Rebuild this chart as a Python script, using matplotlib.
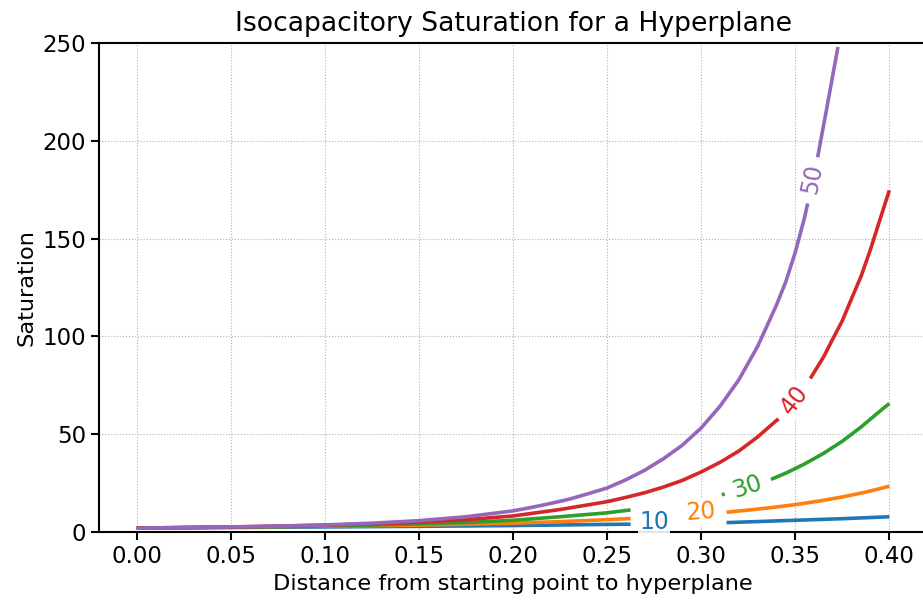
import numpy as np
import matplotlib
matplotlib.use("Agg")
import matplotlib.pyplot as plt

plt.rcParams["font.family"] = "DejaVu Sans"
plt.rcParams["font.size"] = 16
plt.rcParams["axes.linewidth"] = 1.5

# contour levels (dimension) and the values
# NaN marks where the contour line is broken for its label
levels = [10, 20, 30, 40, 50]
colors = ["tab:blue", "tab:orange", "tab:green", "tab:red", "tab:purple"]

dist_10 = [0.0, 0.05, 0.10, 0.15, 0.20, 0.25, 0.2625, np.nan,
           0.3135, 0.35, 0.375, 0.40]
sat_10 = [2.0, 2.3, 2.6, 2.9, 3.3, 3.9, 4.0, np.nan,
          4.8, 6.0, 6.8, 7.8]

dist_20 = [0.0, 0.05, 0.10, 0.15, 0.20, 0.225, 0.25, 0.2625, np.nan,
           0.3135, 0.325, 0.3375, 0.35, 0.3625, 0.375, 0.3875, 0.40]
sat_20 = [2.0, 2.5, 3.0, 3.5, 4.5, 5.3, 6.3, 6.9, np.nan,
          10.1, 11.2, 12.5, 14.0, 15.8, 17.9, 20.4, 23.4]

dist_30 = [0.0, 0.025, 0.05, 0.075, 0.10, 0.125, 0.15, 0.175, 0.20, 0.225,
           0.25, 0.2625, np.nan,
           0.311, 0.3125, np.nan,
           0.3371, 0.345, 0.355, 0.365, 0.375, 0.385, 0.395, 0.40]
sat_30 = [2.0, 2.2, 2.5, 2.8, 3.2, 3.6, 4.2, 4.9, 6.0, 7.8,
          9.8, 11.3, np.nan,
          19.0, 19.5, np.nan,
          26.9, 30.1, 34.8, 40.2, 46.4, 53.7, 61.8, 65.7]

dist_40 = [0.0, 0.025, 0.05, 0.075, 0.10, 0.125, 0.15, 0.175, 0.20, 0.225,
           0.25, 0.26, 0.27, 0.28, 0.29, 0.30, 0.31, 0.32, 0.33, 0.34, 0.3412,
           np.nan,
           0.358, 0.365, 0.37, 0.375, 0.38, 0.385, 0.39, 0.395, 0.40]
sat_40 = [2.0, 2.3, 2.6, 3.0, 3.5, 4.1, 5.0, 6.3, 8.2, 11.5,
          15.5, 17.7, 20.1, 23.0, 26.4, 30.7, 35.6, 41.4, 48.6, 57.0, 57.8,
          np.nan,
          78.5, 89.4, 98.8, 108.0, 119.5, 130.8, 144.5, 159.7, 174.7]

dist_50 = [0.0, 0.025, 0.05, 0.075, 0.10, 0.125, 0.15, 0.175, 0.20, 0.21,
           0.22, 0.23, 0.24, 0.25, 0.26, 0.27, 0.28, 0.29, 0.30, 0.31,
           0.32, 0.33, 0.34, 0.345, 0.35, 0.355, 0.3566, np.nan,
           0.3619, 0.367, 0.3727]
sat_50 = [2.0, 2.3, 2.6, 3.0, 3.6, 4.5, 5.8, 7.8, 10.8, 12.6,
          14.6, 16.8, 19.6, 22.5, 26.7, 31.6, 37.5, 44.4, 53.2, 64.3,
          77.8, 94.9, 116.0, 128.0, 143.0, 161.0, 168.0, np.nan,
          191.6, 218.0, 248.0]

curves = [(dist_10, sat_10), (dist_20, sat_20), (dist_30, sat_30),
          (dist_40, sat_40), (dist_50, sat_50)]

# inline label spots (distance, saturation, rotation)
label_spots = [(0.275, 5.1, 0), (0.2996, 10.2, 4), (0.3243, 23.2, 18),
               (0.3495, 67.5, 52), (0.359, 180.8, 79)]

fig = plt.figure(figsize=(9.23, 6.06), dpi=100)
ax = fig.add_axes([0.1073, 0.1221, 0.8970, 0.8069])

for (d, s), c in zip(curves, colors):
    ax.plot(d, s, color=c, lw=2.6, solid_capstyle="butt")

for lev, c, (x, y, rot) in zip(levels, colors, label_spots):
    ax.text(x, y, str(lev), color=c, ha="center", va="center",
            rotation=rot, rotation_mode="anchor", fontsize=17,
            bbox=dict(facecolor="white", edgecolor="none", pad=1.0, alpha=0.9))

ax.set_xlim(-0.02, 0.42)
ax.set_ylim(0, 250)
ax.set_xticks(np.arange(0, 0.401, 0.05))
ax.set_yticks(np.arange(0, 251, 50))
ax.grid(True, linestyle=":", color="#b0b0b0", lw=0.8)
ax.tick_params(length=6, width=1.5, labelsize=16.5)

ax.set_title("Isocapacitory Saturation for a Hyperplane", fontsize=19.2, pad=9)
ax.set_xlabel("Distance from starting point to hyperplane", fontsize=16.2)
ax.set_ylabel("Saturation", fontsize=16.2)

fig.savefig("out.png", dpi=100)
